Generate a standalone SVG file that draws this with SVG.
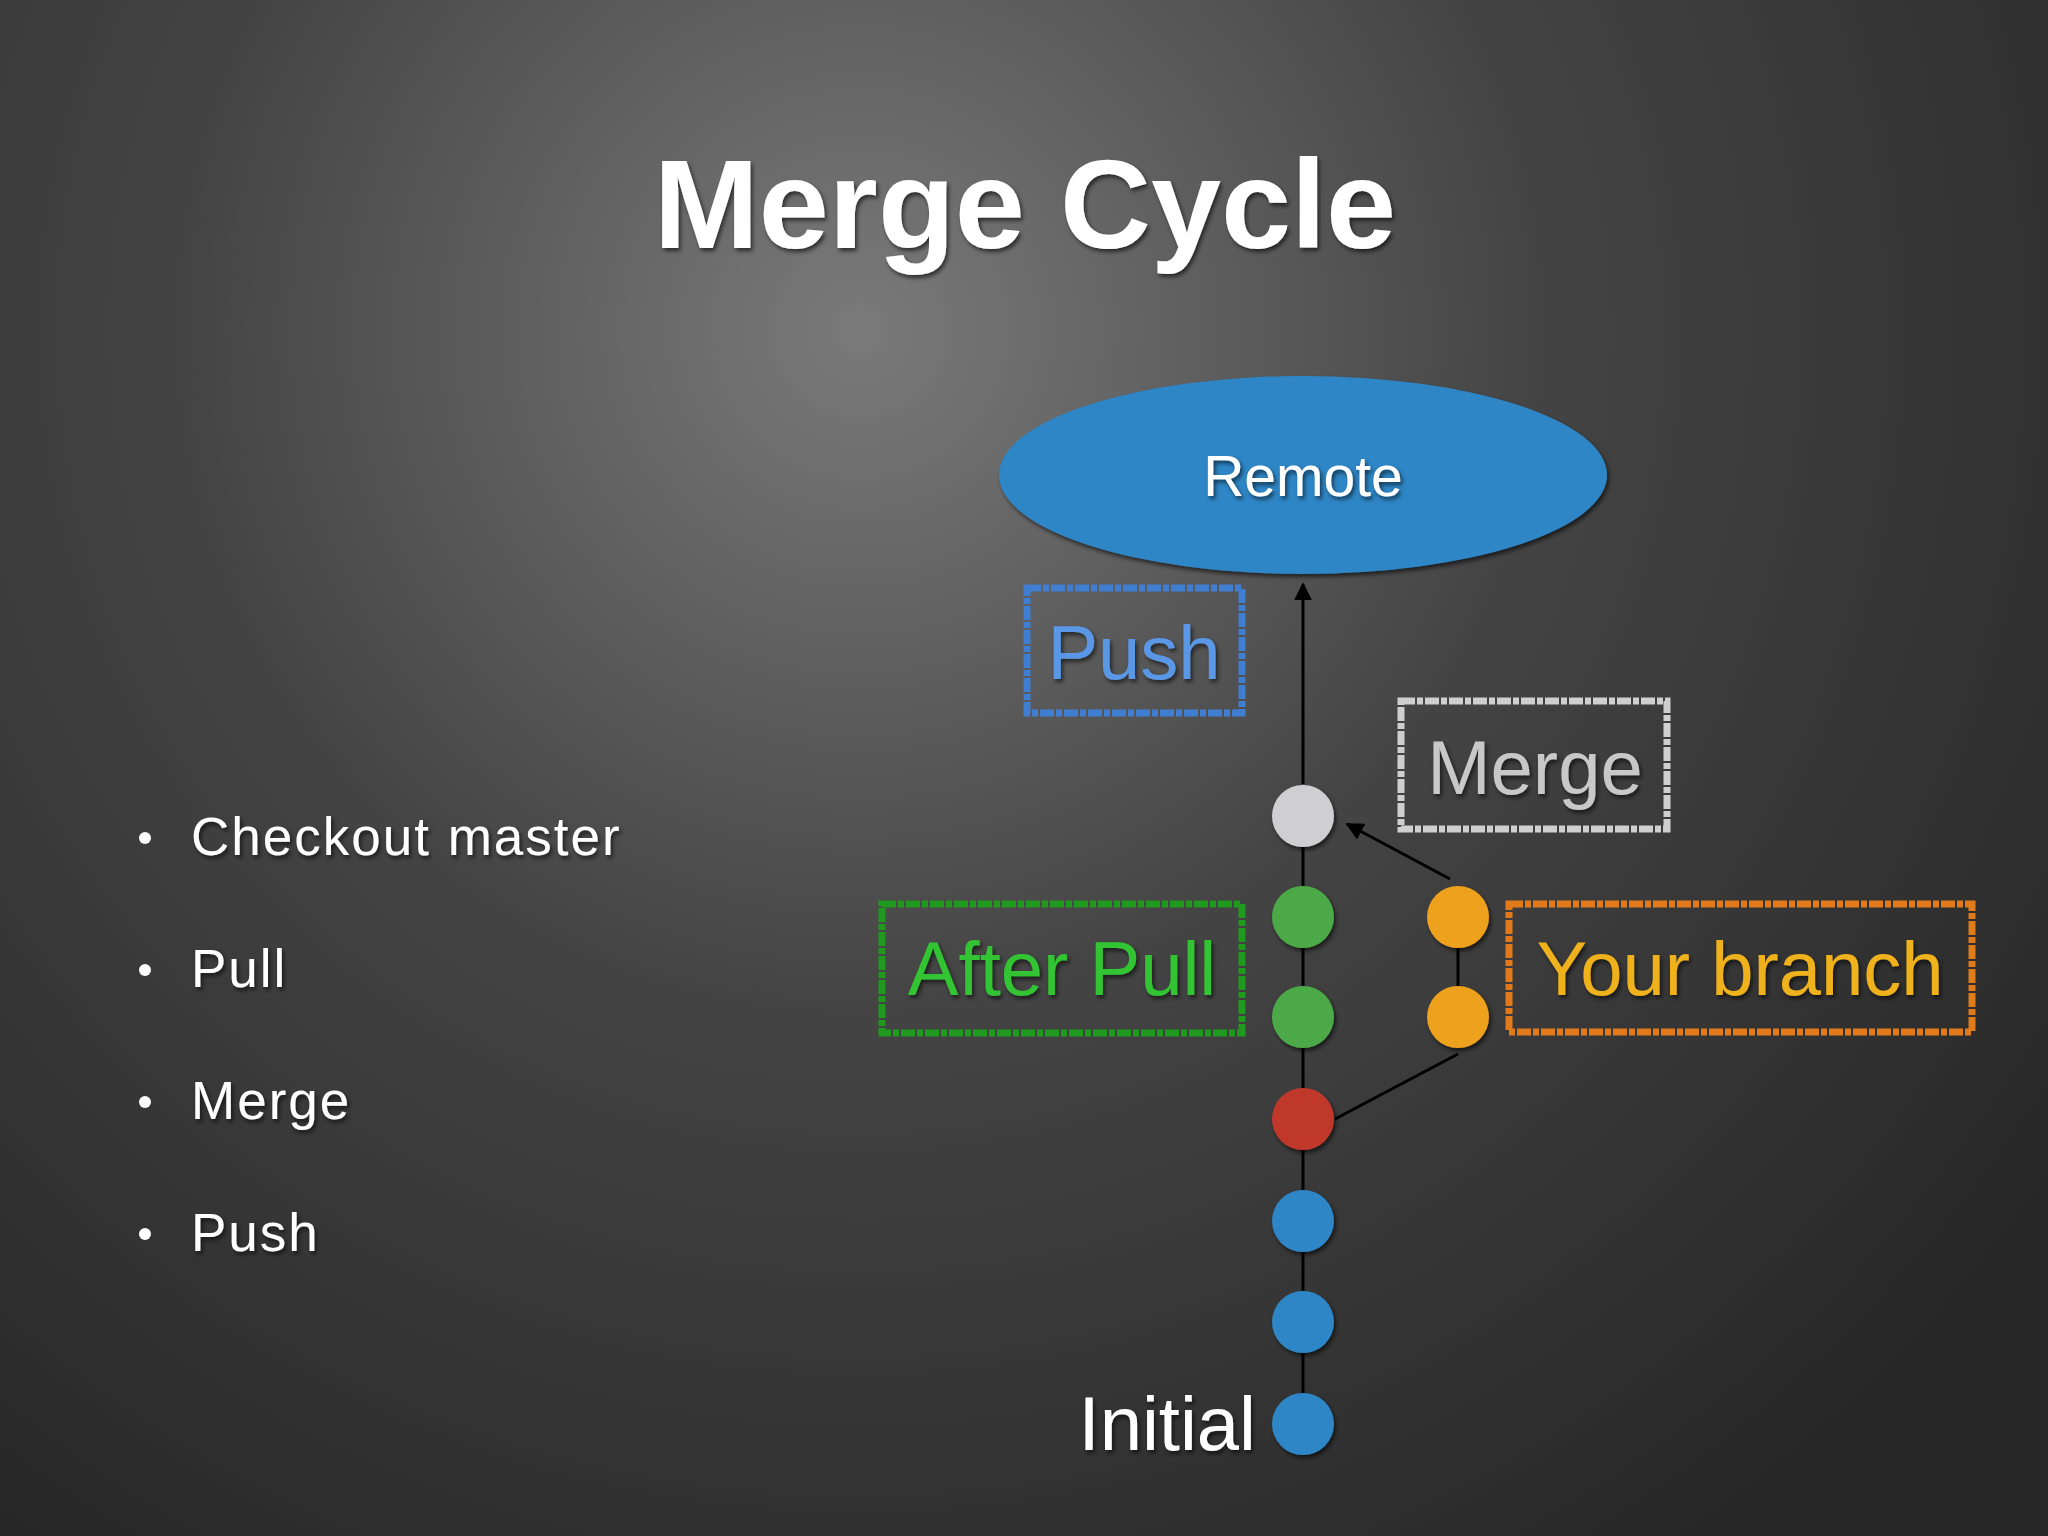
<svg xmlns="http://www.w3.org/2000/svg" width="2048" height="1536" viewBox="0 0 2048 1536">
<defs>
<radialGradient id="bg" cx="860" cy="330" r="1500" gradientUnits="userSpaceOnUse">
<stop offset="0" stop-color="#7a7a7a"/><stop offset="0.45" stop-color="#444"/><stop offset="1" stop-color="#262626"/>
</radialGradient>
<marker id="ah" viewBox="0 0 10 10" refX="9" refY="5" markerWidth="6" markerHeight="6" orient="auto"><path d="M0,0 L10,5 L0,10 z" fill="#000"/></marker>
<filter id="sh"><feDropShadow dx="2" dy="3" stdDeviation="2" flood-color="#000" flood-opacity="0.6"/></filter>
</defs>
<style>
text{font-family:"Liberation Sans",Arial,sans-serif;}
.b{fill:#fff;font-size:53px;letter-spacing:2px;filter:url(#sh)}
.lbl{font-size:76px;text-anchor:middle;filter:url(#sh)}
.box{fill:none;stroke-width:7;stroke-dasharray:14 2 6 2}
.ln{stroke:#000;stroke-width:3;fill:none}
</style>
<rect width="2048" height="1536" fill="url(#bg)"/>
<text x="1025" y="248" text-anchor="middle" font-size="126" font-weight="bold" fill="#fff" filter="url(#sh)">Merge Cycle</text>
<g id="bullets">
<circle cx="145" cy="838" r="6" fill="#fff"/><text class="b" x="191" y="855">Checkout master</text>
<circle cx="145" cy="970" r="6" fill="#fff"/><text class="b" x="191" y="987">Pull</text>
<circle cx="145" cy="1102" r="6" fill="#fff"/><text class="b" x="191" y="1119">Merge</text>
<circle cx="145" cy="1234" r="6" fill="#fff"/><text class="b" x="191" y="1251">Push</text>
</g>
<g id="connectors">
<line class="ln" x1="1303" y1="1424" x2="1303" y2="816"/>
<line class="ln" x1="1303" y1="784" x2="1303" y2="584" marker-end="url(#ah)"/>
<line class="ln" x1="1450" y1="879" x2="1347" y2="824" marker-end="url(#ah)"/>
<line class="ln" x1="1335" y1="1119" x2="1458" y2="1054"/>
<line class="ln" x1="1458" y1="917" x2="1458" y2="1017"/>
</g>
<g id="remote"><ellipse cx="1303" cy="475" rx="304" ry="99" fill="#2e86c6" filter="url(#sh)"/><text x="1303" y="496" text-anchor="middle" font-size="57" fill="#fff" filter="url(#sh)">Remote</text></g>
<g id="commits" filter="url(#sh)">
<circle cx="1303" cy="816" r="31" fill="#cfcfd2"/>
<circle cx="1303" cy="917" r="31" fill="#4caa47"/>
<circle cx="1303" cy="1017" r="31" fill="#4caa47"/>
<circle cx="1303" cy="1119" r="31" fill="#c0392b"/>
<circle cx="1303" cy="1221" r="31" fill="#2e86c6"/>
<circle cx="1303" cy="1322" r="31" fill="#2e86c6"/>
<circle cx="1303" cy="1424" r="31" fill="#2e86c6"/>
<circle cx="1458" cy="917" r="31" fill="#eea11c"/>
<circle cx="1458" cy="1017" r="31" fill="#eea11c"/>
</g>
<g id="push"><rect class="box" x="1027" y="588" width="215" height="125" stroke="#3f7ed1"/><text class="lbl" x="1134" y="679" fill="#5a97e6">Push</text></g>
<g id="merge"><rect class="box" x="1401" y="701" width="266" height="128" stroke="#cfcfcf"/><text class="lbl" x="1535" y="794" fill="#c8c8c8">Merge</text></g>
<g id="afterpull"><rect class="box" x="882" y="904" width="360" height="129" stroke="#1f9a1f"/><text class="lbl" x="1062" y="995" fill="#33c433">After Pull</text></g>
<g id="yourbranch"><rect class="box" x="1509" y="904" width="463" height="128" stroke="#e07a1a"/><text class="lbl" x="1740" y="995" fill="#f0b21a">Your branch</text></g>
<g id="initial"><text x="1256" y="1450" text-anchor="end" font-size="76" fill="#fff" filter="url(#sh)">Initial</text></g>
</svg>
